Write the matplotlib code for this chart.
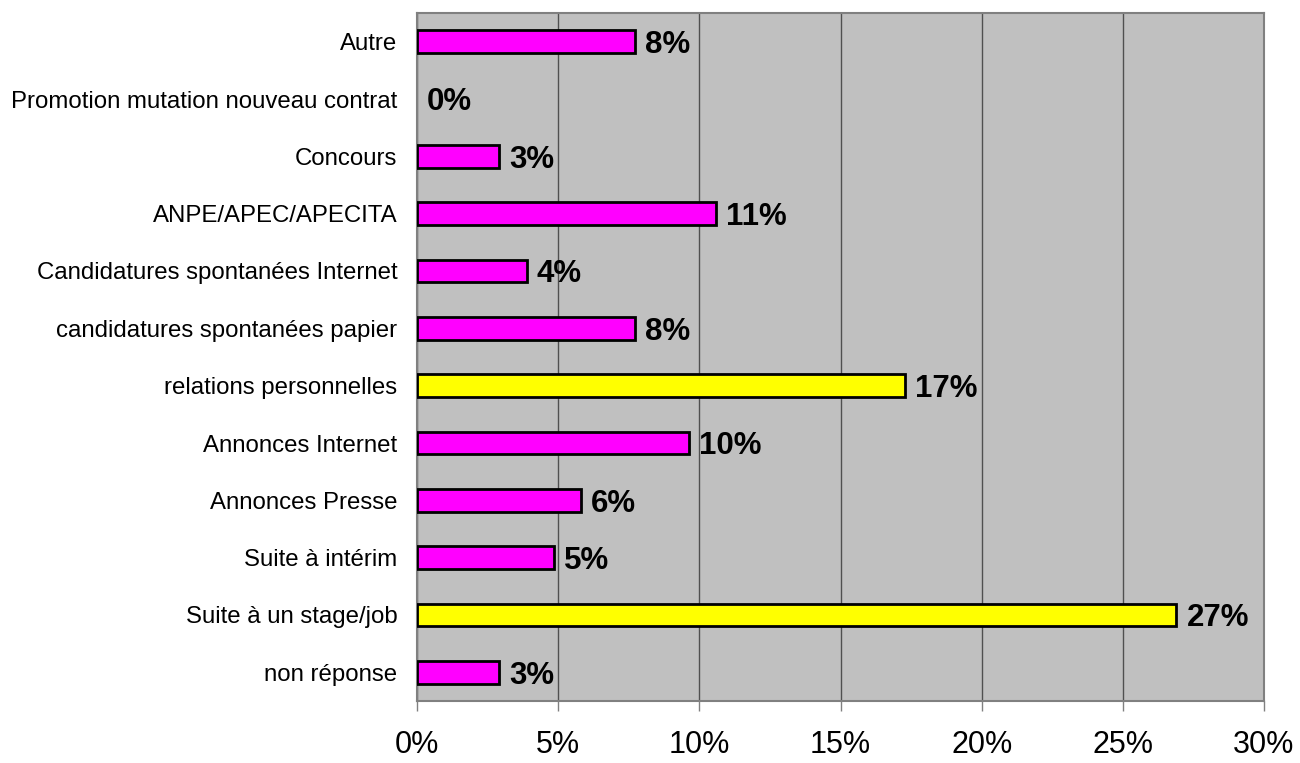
import numpy as np
import matplotlib.pyplot as plt
from matplotlib.ticker import FuncFormatter

categories = ["non réponse", "Suite à un stage/job", "Suite à intérim", "Annonces Presse",
              "Annonces Internet", "relations personnelles", "candidatures spontanées papier",
              "Candidatures spontanées Internet", "ANPE/APEC/APECITA", "Concours",
              "Promotion mutation nouveau contrat", "Autre"]
values = [2.9, 26.9, 4.84, 5.8, 9.65, 17.3, 7.72, 3.89, 10.6, 2.9, 0.0, 7.72]
labels = ["3%", "27%", "5%", "6%", "10%", "17%", "8%", "4%", "11%", "3%", "0%", "8%"]
highlight = ["Suite à un stage/job", "relations personnelles"]

plt.rcParams['font.family'] = ['Liberation Sans', 'DejaVu Sans']

fig = plt.figure(figsize=(13, 7.63), dpi=100)
ax = fig.add_axes([417/1300, 1 - 701/763, (1264 - 417)/1300, (701 - 13)/763])
ax.set_facecolor('#C0C0C0')

y = np.arange(len(categories))
colors = ['#FFFF00' if c in highlight else '#FF00FF' for c in categories]
bars = ax.barh(y, values, height=0.39, color=colors, edgecolor='black', linewidth=2, zorder=3)
for b, v, lab in zip(bars, values, labels):
    if v == 0:
        b.set_visible(False)
    ax.annotate(lab, (v, b.get_y() + b.get_height()/2), xytext=(7.2, -2.5),
                textcoords='offset points', va='center', ha='left',
                fontsize=22.5, fontweight='bold', zorder=4)

ax.set_xlim(0, 30)
ax.set_ylim(-0.5, len(categories) - 0.5)
ax.set_xticks(np.arange(0, 31, 5))
ax.xaxis.set_major_formatter(FuncFormatter(lambda v, p: f"{v:.0f}%"))
ax.set_yticks(y)
ax.set_yticklabels(categories, fontsize=17.3)
ax.tick_params(axis='y', length=0, pad=14)
ax.tick_params(axis='x', length=7, width=1, color='#808080', labelsize=22, pad=14)
ax.grid(axis='x', color='#505050', linewidth=1, zorder=1)
for s in ax.spines.values():
    s.set_color('#808080')
    s.set_linewidth(1.5)

fig.savefig('out.png', dpi=100)
